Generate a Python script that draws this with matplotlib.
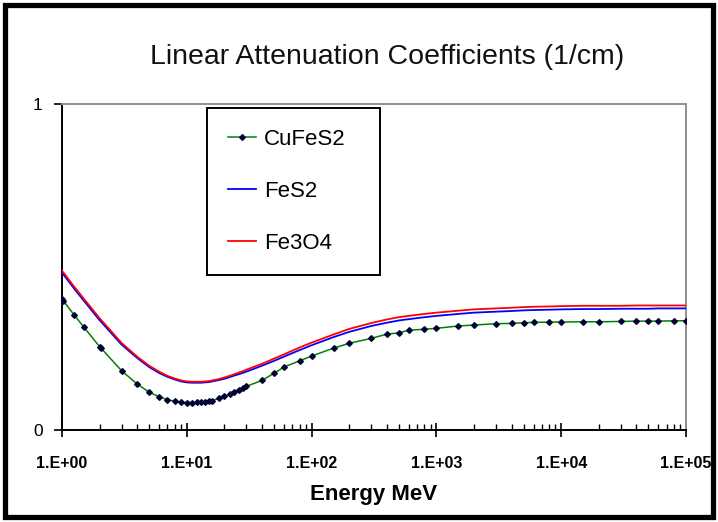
import numpy as np
import matplotlib
matplotlib.use("Agg")
import matplotlib.pyplot as plt
from matplotlib.patches import Rectangle
from matplotlib.ticker import FixedLocator, FixedFormatter, LogLocator, NullFormatter

plt.rcParams['font.family'] = ['Liberation Sans', 'DejaVu Sans']

# Photon energies (MeV)
energy = [1, 1.022, 1.25, 1.5, 2, 2.044, 3, 4, 5, 6, 7, 8, 9, 10, 11, 12, 13, 14,
          15, 16, 18, 20, 22, 24, 26, 28, 30, 40, 50, 60, 80, 100, 150, 200, 300,
          400, 500, 600, 800, 1000, 1500, 2000, 3000, 4000, 5000, 6000, 8000,
          10000, 15000, 20000, 30000, 40000, 50000, 60000, 80000, 100000]

# Linear attenuation coefficients (1/cm)
cufes2 = [0.401, 0.397, 0.353, 0.315, 0.256, 0.252, 0.182, 0.141, 0.116, 0.102,
          0.093, 0.088, 0.085, 0.084, 0.084, 0.085, 0.086, 0.087, 0.088, 0.090,
          0.097, 0.103, 0.110, 0.116, 0.122, 0.128, 0.134, 0.152, 0.174, 0.193,
          0.212, 0.227, 0.251, 0.266, 0.281, 0.294, 0.298, 0.306, 0.309, 0.312,
          0.319, 0.322, 0.326, 0.327, 0.329, 0.330, 0.331, 0.331, 0.332, 0.332,
          0.333, 0.334, 0.334, 0.334, 0.335, 0.335]

fes2 = [0.482, 0.478, 0.434, 0.396, 0.337, 0.333, 0.262, 0.221, 0.193, 0.175,
        0.163, 0.155, 0.149, 0.146, 0.145, 0.145, 0.145, 0.146, 0.147, 0.149,
        0.153, 0.157, 0.162, 0.167, 0.171, 0.175, 0.179, 0.197, 0.212, 0.225,
        0.245, 0.260, 0.285, 0.301, 0.319, 0.329, 0.336, 0.340, 0.346, 0.350,
        0.356, 0.360, 0.363, 0.365, 0.367, 0.368, 0.369, 0.370, 0.371, 0.371,
        0.372, 0.372, 0.372, 0.373, 0.373, 0.373]

fe3o4 = [0.488, 0.484, 0.440, 0.402, 0.343, 0.339, 0.267, 0.225, 0.197, 0.179,
         0.166, 0.158, 0.152, 0.149, 0.148, 0.148, 0.148, 0.149, 0.150, 0.152,
         0.156, 0.161, 0.166, 0.171, 0.176, 0.180, 0.185, 0.203, 0.219, 0.232,
         0.253, 0.268, 0.293, 0.310, 0.328, 0.339, 0.346, 0.350, 0.356, 0.360,
         0.366, 0.370, 0.373, 0.375, 0.377, 0.378, 0.379, 0.380, 0.381, 0.381,
         0.381, 0.382, 0.382, 0.382, 0.382, 0.382]

xticks = [1, 10, 100, 1000, 10000, 100000]
xtick_labels = ['1.E+00', '1.E+01', '1.E+02', '1.E+03', '1.E+04', '1.E+05']
yticks = [0, 1]
ytick_labels = ['0', '1']

W, H = 718, 522
fig = plt.figure(figsize=(W / 100, H / 100), dpi=100)
fig.patch.set_facecolor('white')

# outer chart border
fig.add_artist(Rectangle((5 / W, 5 / H), 1 - 10 / W, 1 - 10 / H,
                         transform=fig.transFigure, fill=False,
                         edgecolor='black', linewidth=3.8, zorder=10))

left, right, top, bottom = 62, 686, 104, 430
ax = fig.add_axes([left / W, 1 - bottom / H, (right - left) / W, (bottom - top) / H])

ax.plot(energy, cufes2, color='#008000', linewidth=1.1, marker='D',
        markersize=2.9, markerfacecolor='#000033', markeredgecolor='#000033',
        label='CuFeS2', zorder=3)
ax.plot(energy, fes2, color='#0000FF', linewidth=1.3, label='FeS2', zorder=4)
ax.plot(energy, fe3o4, color='#FF0000', linewidth=1.3, label='Fe3O4', zorder=5)

ax.set_xscale('log')
ax.set_xlim(1, 1e5)
ax.set_ylim(0, 1)

ax.xaxis.set_major_locator(FixedLocator(xticks))
ax.xaxis.set_major_formatter(FixedFormatter(xtick_labels))
ax.xaxis.set_minor_locator(LogLocator(base=10, subs=np.arange(2, 10), numticks=20))
ax.xaxis.set_minor_formatter(NullFormatter())
ax.yaxis.set_major_locator(FixedLocator(yticks))
ax.yaxis.set_major_formatter(FixedFormatter(ytick_labels))

for side in ('left', 'bottom'):
    ax.spines[side].set_color('black')
    ax.spines[side].set_linewidth(1.4)
for side in ('top', 'right'):
    ax.spines[side].set_color('#909090')
    ax.spines[side].set_linewidth(1.4)

ax.tick_params(axis='x', which='major', direction='inout', length=10, width=1.2,
               pad=14, labelsize=11.5, colors='black')
ax.tick_params(axis='x', which='minor', direction='in', length=4, width=1.0)
ax.tick_params(axis='y', which='major', direction='out', length=6, width=1.2,
               pad=8, labelsize=12.5)
for lab in ax.get_xticklabels():
    lab.set_fontweight('bold')

ax.set_xlabel('Energy MeV', fontsize=16, fontweight='bold', labelpad=9)

fig.text(387 / W, 1 - 57 / H, 'Linear Attenuation Coefficients (1/cm)',
         ha='center', va='center', fontsize=20.5, color='#111111')

leg = ax.legend(loc='upper left', bbox_to_anchor=(0.232, 0.988, 0.278, 0.0),
                mode='expand', borderaxespad=0, fontsize=16, handlelength=1.27,
                handletextpad=0.35, borderpad=0.95, labelspacing=1.4,
                fancybox=False, framealpha=1, edgecolor='black', numpoints=1)
leg.get_frame().set_linewidth(1.4)

fig.savefig('out.png', dpi=100, facecolor='white')
